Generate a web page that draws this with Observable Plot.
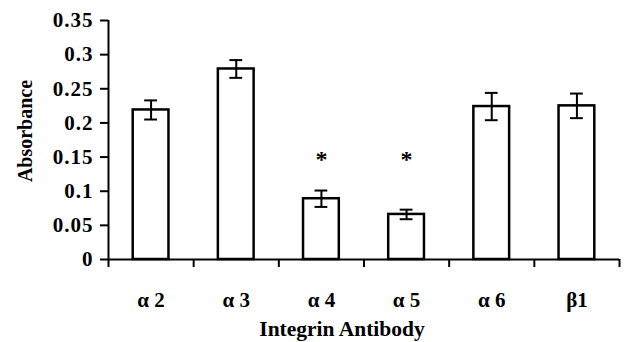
<!DOCTYPE html>
<html>
<head>
<meta charset="utf-8">
<script src="https://cdn.jsdelivr.net/npm/d3@7"></script>
<script src="https://cdn.jsdelivr.net/npm/@observablehq/plot@0.6"></script>
<style>
  html, body { margin: 0; padding: 0; background: #fff; }
  svg { display: block; }
  g[aria-label="y-axis tick label"] text { letter-spacing: 1px; }
</style>
</head>
<body>
<div id="chart"></div>
<script>
const categories = ["α 2", "α 3", "α 4", "α 5", "α 6", "β1"];
const absorbance = [0.219, 0.279, 0.089, 0.066, 0.224, 0.225];
const errors = [0.014, 0.013, 0.012, 0.007, 0.020, 0.018];
const stars = ["", "", "*", "*", "", ""];
const starLevel = 0.15;
const yTicks = [0, 0.05, 0.1, 0.15, 0.2, 0.25, 0.3, 0.35];

const barHalf = 0.21;
const capHalf = 0.075;

const data = categories.map((c, i) => ({
  cat: c, i, v: absorbance[i], e: errors[i], star: stars[i]
}));
const boundaries = d3.range(categories.length + 1);
const centers = categories.map((c, i) => i + 0.5);

const font = "'Liberation Serif', 'Times New Roman', serif";

const chart = Plot.plot({
  width: 642,
  height: 342,
  marginLeft: 108,
  marginRight: 23,
  marginTop: 20,
  marginBottom: 83,
  style: { fontFamily: font, fontWeight: "bold", color: "#000", background: "#fff" },
  x: { type: "linear", domain: [0, categories.length] },
  y: { domain: [0, 0.35] },
  marks: [
    Plot.rectY(data, {
      x1: d => d.i + 0.5 - barHalf, x2: d => d.i + 0.5 + barHalf,
      y1: 0, y2: "v", fill: "#fff", stroke: "#000", strokeWidth: 2.5
    }),
    Plot.ruleX(data, { x: d => d.i + 0.5, y1: d => d.v - d.e, y2: d => d.v + d.e, stroke: "#000", strokeWidth: 2 }),
    Plot.ruleY(data, { y: d => d.v + d.e, x1: d => d.i + 0.5 - capHalf, x2: d => d.i + 0.5 + capHalf, stroke: "#000", strokeWidth: 2 }),
    Plot.ruleY(data, { y: d => d.v - d.e, x1: d => d.i + 0.5 - capHalf, x2: d => d.i + 0.5 + capHalf, stroke: "#000", strokeWidth: 2 }),
    Plot.text(data.filter(d => d.star), { x: d => d.i + 0.5, y: starLevel, text: "star", fontSize: 24, fontWeight: "bold", dy: 2, fill: "#000" }),
    Plot.ruleX([0], { y1: 0, y2: 0.35, stroke: "#000", strokeWidth: 2 }),
    Plot.ruleY([0], { x1: 0, x2: categories.length, stroke: "#000", strokeWidth: 2 }),
    Plot.axisY({ ticks: yTicks, tickFormat: d => String(d), tickSize: 8, tickPadding: 7, fontSize: 21, fontWeight: "bold", label: null, strokeWidth: 2 }),
    Plot.axisX({ ticks: boundaries, tickFormat: () => "", tickSize: 8, label: null, strokeWidth: 2 }),
    Plot.axisX({ ticks: centers, tickFormat: (d, k) => categories[Math.floor(d)], tickSize: 0, tickPadding: 33, fontSize: 21, fontWeight: "bold", label: null }),
    Plot.text(["Absorbance"], { frameAnchor: "left", textAnchor: "middle", lineAnchor: "middle", rotate: -90, dx: -83, dy: -9, fontSize: 20, fontWeight: "bold", fill: "#000" }),
    Plot.text(["Integrin Antibody"], { frameAnchor: "bottom", textAnchor: "middle", lineAnchor: "middle", dx: -22, dy: 70, fontSize: 21.5, fontWeight: "bold", fill: "#000" })
  ]
});
document.getElementById("chart").appendChild(chart);
</script>
</body>
</html>
